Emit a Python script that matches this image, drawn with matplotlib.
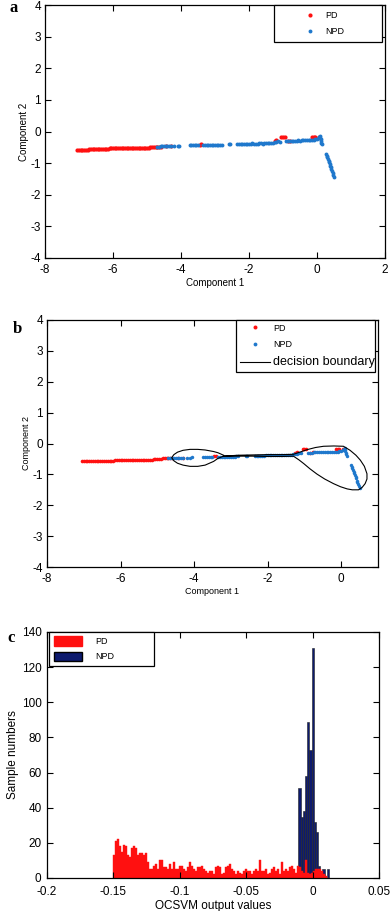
import matplotlib
matplotlib.use("Agg")
import matplotlib.pyplot as plt
from matplotlib.patches import Patch
import numpy as np

plt.rcParams['font.family'] = ['Liberation Sans', 'DejaVu Sans']

# ---------------- data: scatter (component 1 / component 2) ----------------
pd_x = [-7.05, -7.0, -6.95, -6.9, -6.85, -6.8, -6.75, -6.7, -6.65, -6.6, -6.55, -6.5,
        -6.45, -6.4, -6.35, -6.3, -6.25, -6.2, -6.15, -6.1, -6.05, -6.0, -5.95, -5.9,
        -5.85, -5.8, -5.75, -5.7, -5.65, -5.6, -5.55, -5.5, -5.45, -5.4, -5.35, -5.3,
        -5.25, -5.2, -5.15, -5.1, -5.05, -5.0, -4.95, -4.9, -4.85, -4.8, -4.75, -4.7,
        -4.65, -4.6, -4.45, -4.3, -3.45, -3.4, -1.25, -1.2, -1.05, -1.0, -0.95, -0.85,
        -0.78, -0.15, -0.1, -0.05, 0.05]
pd_y = [-0.58, -0.58, -0.58, -0.58, -0.58, -0.57, -0.57, -0.56, -0.56, -0.56, -0.56, -0.56,
        -0.56, -0.56, -0.56, -0.56, -0.56, -0.56, -0.55, -0.53, -0.53, -0.53, -0.53, -0.53,
        -0.53, -0.53, -0.53, -0.53, -0.52, -0.52, -0.52, -0.52, -0.52, -0.52, -0.52, -0.52,
        -0.52, -0.52, -0.52, -0.51, -0.51, -0.51, -0.51, -0.50, -0.48, -0.48, -0.48, -0.48,
        -0.48, -0.48, -0.46, -0.47, -0.42, -0.41, -0.30, -0.28, -0.17, -0.17, -0.17, -0.30,
        -0.29, -0.18, -0.18, -0.18, -0.17]

npd_x = [-4.7, -4.65, -4.6, -4.55, -4.5, -4.45, -4.4, -4.35, -4.3, -4.2, -4.1, -4.05,
         -3.75, -3.7, -3.65, -3.6, -3.55, -3.5, -3.35, -3.3, -3.25, -3.2, -3.15, -3.1,
         -3.05, -3.0, -2.95, -2.9, -2.85, -2.8, -2.6, -2.55, -2.35, -2.3, -2.25, -2.2,
         -2.15, -2.1, -2.05, -2.0, -1.95, -1.9, -1.85, -1.8, -1.75, -1.7, -1.65, -1.6,
         -1.55, -1.5, -1.45, -1.4, -1.35, -1.3, -1.25, -1.2, -1.15, -1.1, -0.9, -0.85,
         -0.8, -0.75, -0.7, -0.65, -0.6, -0.55, -0.5, -0.45, -0.4, -0.35, -0.3, -0.25,
         -0.2, -0.15, -0.1, -0.05, 0.0, 0.05, 0.07, 0.09, 0.1, 0.11, 0.12, 0.13, 0.15,
         0.27, 0.29, 0.3, 0.32, 0.34, 0.35, 0.37, 0.39, 0.4, 0.42, 0.44, 0.46, 0.48, 0.5]
npd_y = [-0.48, -0.48, -0.47, -0.47, -0.47, -0.47, -0.46, -0.46, -0.46, -0.46, -0.46, -0.45,
         -0.44, -0.44, -0.43, -0.43, -0.44, -0.43, -0.43, -0.44, -0.44, -0.44, -0.43, -0.43,
         -0.43, -0.43, -0.43, -0.43, -0.42, -0.42, -0.41, -0.40, -0.40, -0.40, -0.40, -0.40,
         -0.39, -0.39, -0.38, -0.38, -0.38, -0.37, -0.38, -0.38, -0.38, -0.37, -0.37, -0.38,
         -0.37, -0.37, -0.37, -0.37, -0.36, -0.35, -0.33, -0.33, -0.30, -0.32, -0.31, -0.31,
         -0.30, -0.29, -0.29, -0.29, -0.29, -0.28, -0.29, -0.28, -0.28, -0.28, -0.28, -0.27,
         -0.27, -0.26, -0.26, -0.25, -0.25, -0.21, -0.17, -0.15, -0.20, -0.25, -0.30, -0.35, -0.40,
         -0.70, -0.76, -0.80, -0.86, -0.92, -0.97, -1.03, -1.08, -1.13, -1.20, -1.26, -1.32, -1.38, -1.45]

# decision boundary (one closed curve: left loop, band, right loop)
bnd_x = [-3.2, -3.35, -3.47, -3.7, -3.9, -4.11, -4.3, -4.45, -4.55, -4.61, -4.55, -4.45,
         -4.3, -4.11, -3.9, -3.7, -3.47, -3.35, -3.2, -2.8, -2.4, -2.0, -1.6, -1.3,
         -1.1, -0.93, -0.7, -0.48, -0.2, 0.06, 0.24, 0.4, 0.52, 0.63, 0.70, 0.70, 0.65,
         0.57, 0.47, 0.3, 0.16, -0.02, -0.21, -0.45, -0.66, -0.85, -1.02, -1.15, -1.3,
         -1.6, -2.0, -2.4, -2.8, -3.2]
bnd_y = [-0.38, -0.30, -0.26, -0.21, -0.19, -0.19, -0.22, -0.28, -0.36, -0.46, -0.56, -0.64,
         -0.70, -0.74, -0.74, -0.70, -0.58, -0.48, -0.41, -0.38, -0.37, -0.36, -0.36, -0.35,
         -0.27, -0.20, -0.13, -0.09, -0.08, -0.09, -0.22, -0.38, -0.54, -0.74, -0.98, -1.15, -1.30,
         -1.42, -1.50, -1.50, -1.47, -1.40, -1.30, -1.15, -0.99, -0.82, -0.65, -0.53, -0.41,
         -0.42, -0.42, -0.41, -0.41, -0.41]

# ---------------- data: histogram of OCSVM output values ----------------
pd_bin_start = -0.150
pd_bin_width = 0.0015
pd_counts = [13, 21, 22, 18, 15, 19, 18, 13, 12, 17, 18, 17, 13, 14,
             14, 13, 14, 9, 5, 5, 7, 8, 5, 10, 10, 6,
             6, 5, 8, 5, 9, 5, 5, 7, 7, 5, 4, 6, 9, 7, 5, 4, 6, 6, 7, 5,
             4, 3, 4, 4, 2, 6, 7, 6, 2, 3, 6, 7, 8, 5, 4, 2, 4, 3, 2, 4, 5, 4, 4, 2, 4, 5, 4,
             10, 4, 4, 5, 2, 3, 5, 6, 4, 5, 2, 9, 4, 5, 4, 6, 7, 5, 3, 7,
             6, 4, 3, 10, 3, 2, 3, 4, 5, 5, 5, 4, 2, 1, 0]
npd_bin_start = -0.0107
npd_bin_width = 0.00165
npd_counts = [51, 35, 38, 58, 89, 73, 131, 32, 26, 7, 2, 5, 0, 5]

red = '#ff1010'
blue = '#1f78cc'
navy = '#0d1a6e'

W, H = 392, 911
fig = plt.figure(figsize=(W / 100, H / 100), dpi=100)


def axes_px(left, top, right, bottom):
    return fig.add_axes([left / W, 1 - bottom / H, (right - left) / W, (bottom - top) / H])


def style(ax, fs, xpad=4):
    ax.tick_params(direction='in', top=True, right=True, length=4, width=0.8,
                   labelsize=fs, pad=3)
    ax.tick_params(axis='x', pad=xpad)
    for s in ax.spines.values():
        s.set_linewidth(0.9)


# ---------------- panel a ----------------
axa = axes_px(45, 5, 385, 258)
axa.plot(pd_x, pd_y, 'o', color=red, ms=3.0, mew=0, label='PD')
axa.plot(npd_x, npd_y, 'o', color=blue, ms=2.8, mew=0, label='NPD')
axa.set_xlim(-8, 2)
axa.set_ylim(-4, 4)
axa.set_xticks([-8, -6, -4, -2, 0, 2])
axa.set_yticks([-4, -3, -2, -1, 0, 1, 2, 3, 4])
axa.set_yticklabels(['-4', '-3', '-2', '-1', '0', '1', '2', '3', '4'])
axa.set_xticklabels(['-8', '-6', '-4', '-2', '0', '2'])
style(axa, 8.5)
axa.set_xlabel('Component 1', fontsize=7, labelpad=2)
axa.set_ylabel('Component 2', fontsize=7, labelpad=1)
la = axa.legend(loc='upper left', bbox_to_anchor=(274 / W, 1 - 5 / H, 108 / W, 0.0001),
                bbox_transform=fig.transFigure, mode='expand', fontsize=6.5,
                handlelength=6.6, handletextpad=-1.6, borderpad=0.7, labelspacing=0.75,
                numpoints=1, markerscale=1.0, fancybox=False, edgecolor='black',
                framealpha=1, borderaxespad=0)
la.get_frame().set_linewidth(0.9)
fig.text(10 / W, 1 - 12 / H, 'a', fontsize=12, fontweight='bold',
         family='Liberation Serif')

# ---------------- panel b ----------------
axb = axes_px(47, 320, 378, 567)
axb.plot(pd_x, pd_y, 'o', color=red, ms=2.6, mew=0, label='PD')
axb.plot(npd_x, npd_y, 'o', color=blue, ms=2.5, mew=0, label='NPD')
axb.plot(bnd_x, bnd_y, '-', color='black', lw=0.8, label='decision boundary')
axb.set_xlim(-8, 1)
axb.set_ylim(-4, 4)
axb.set_xticks([-8, -6, -4, -2, 0])
axb.set_xticklabels(['-8', '-6', '-4', '-2', '0'])
axb.set_yticks([-4, -3, -2, -1, 0, 1, 2, 3, 4])
axb.set_yticklabels(['-4', '-3', '-2', '-1', '0', '1', '2', '3', '4'])
style(axb, 8.5)
axb.set_xlabel('Component 1', fontsize=6.5, labelpad=2)
axb.set_ylabel('Component 2', fontsize=6.5, labelpad=1)
lb = axb.legend(loc='upper left', bbox_to_anchor=(236 / W, 1 - 320 / H, 139 / W, 0.0001),
                bbox_transform=fig.transFigure, mode='expand', fontsize=6.5,
                handlelength=3.4, handletextpad=0.3, borderpad=0.4, labelspacing=0.8,
                numpoints=1, markerscale=1.1, fancybox=False, edgecolor='black',
                framealpha=1, borderaxespad=0)
lb.get_texts()[2].set_fontsize(9)
lb.get_frame().set_linewidth(0.9)
fig.text(13 / W, 1 - 333 / H, 'b', fontsize=12, fontweight='bold',
         family='Liberation Serif')

# ---------------- panel c ----------------
axc = axes_px(47, 632, 379, 878)
npd_edges = [npd_bin_start + i * npd_bin_width for i in range(len(npd_counts))]
pd_edges = [pd_bin_start + i * pd_bin_width for i in range(len(pd_counts))]
axc.bar(npd_edges, npd_counts, width=npd_bin_width, align='edge', color=navy,
        edgecolor='#222222', linewidth=0.4, label='NPD')
axc.bar(pd_edges, pd_counts, width=pd_bin_width, align='edge', color=red,
        edgecolor=red, linewidth=0.3, label='PD')
axc.set_xlim(-0.2, 0.05)
axc.set_ylim(0, 140)
axc.set_xticks([-0.2, -0.15, -0.1, -0.05, 0, 0.05])
axc.set_xticklabels(['-0.2', '-0.15', '-0.1', '-0.05', '0', '0.05'])
axc.set_yticks([0, 20, 40, 60, 80, 100, 120, 140])
axc.set_yticklabels(['0', '20', '40', '60', '80', '100', '120', '140'])
style(axc, 8.5, xpad=5.5)
axc.tick_params(axis='y', pad=4)
axc.set_xlabel('OCSVM output values', fontsize=8.5, labelpad=2)
axc.set_ylabel('Sample numbers', fontsize=8.5, labelpad=2)
handles = [Patch(facecolor=red, edgecolor=red), Patch(facecolor=navy, edgecolor='black')]
lc = axc.legend(handles, ['PD', 'NPD'], loc='upper left',
                bbox_to_anchor=(49 / W, 1 - 632 / H, 105 / W, 0.0001),
                bbox_transform=fig.transFigure, mode='expand', fontsize=6.5,
                handlelength=3.2, handleheight=1.2, handletextpad=1.4, borderpad=0.5,
                labelspacing=0.6, fancybox=False, edgecolor='black', framealpha=1,
                borderaxespad=0)
lc.get_frame().set_linewidth(0.9)
fig.text(7 / W, 1 - 642 / H, 'c', fontsize=12, fontweight='bold',
         family='Liberation Serif')

fig.savefig('out.png', dpi=100)
